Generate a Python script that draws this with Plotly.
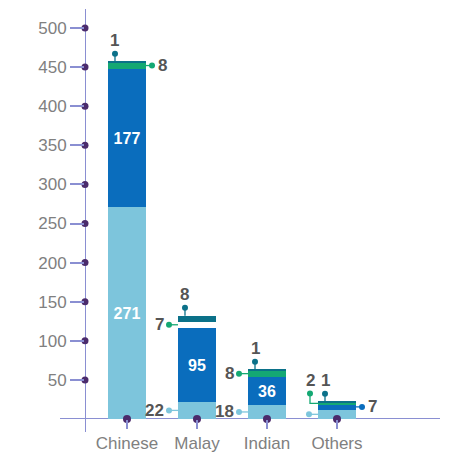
import plotly.graph_objects as go

categories = ["Chinese", "Malay", "Indian", "Others"]
light_blue = [271, 22, 18, 12]
blue = [177, 95, 36, 7]
green = [8, 7, 8, 2]
teal = [1, 8, 1, 1]
y_ticks = [50, 100, 150, 200, 250, 300, 350, 400, 450, 500]

# label placement per category: lb, blue, green, teal
placement = [
    ["inside", "inside", "right", "top"],
    ["left", "inside", "left", "top"],
    ["left", "inside", "left", "top"],
    ["left_notext", "right", "elbow", "top"],
]

C_LB = "#7dc5dc"
C_BLUE = "#0a6dbd"
C_GREEN = "#14a873"
C_TEAL = "#0b7189"
C_AXIS = "#8a8fd2"
C_DOT = "#4b2b6c"
C_TICKTXT = "#808080"
C_LBL = "#555555"
FONT = "Liberation Sans, Arial"

W, H = 459, 453
ML, MR, MT, MB = 85, 19, 9, 34
X0 = -0.6
PX_X = 70.0
plot_w = W - ML - MR
plot_h = H - MT - MB
X1 = X0 + plot_w / PX_X
PX_Y = 0.782
Y1 = plot_h / PX_Y
BW = 0.543
HALF = BW / 2

def dx(px):
    return px / PX_X

def dy(px):
    return px / PX_Y

xs = list(range(len(categories)))
series = [light_blue, blue, green, teal]
colors = [C_LB, C_BLUE, C_GREEN, C_TEAL]

fig = go.Figure()
for si, (vals, col) in enumerate(zip(series, colors)):
    txt = ["<b>%d</b>" % v if placement[i][si] == "inside" else "" for i, v in enumerate(vals)]
    mcols = [col] * len(vals)
    if si == 2:
        mcols[1] = "#ffffff"
    fig.add_trace(go.Bar(
        x=xs, y=vals, width=BW, marker=dict(color=mcols, line=dict(width=0)),
        text=txt, textposition="inside", insidetextanchor="middle",
        textfont=dict(color="white", size=16, family=FONT),
        textangle=0, constraintext="none", hoverinfo="skip", showlegend=False,
    ))

annotations = []

def add_line(xl, yl, col):
    fig.add_trace(go.Scatter(x=xl, y=yl, mode="lines", line=dict(color=col, width=1.3),
                             hoverinfo="skip", showlegend=False, cliponaxis=False))

def add_dot(x, y, col):
    fig.add_trace(go.Scatter(x=[x], y=[y], mode="markers", marker=dict(color=col, size=6),
                             hoverinfo="skip", showlegend=False, cliponaxis=False))

def add_text(x, y, t, xanchor):
    annotations.append(dict(x=x, y=y, text="<b>%s</b>" % t, showarrow=False, xanchor=xanchor,
                            yanchor="middle", font=dict(size=17, color=C_LBL, family=FONT)))

for i in xs:
    base = 0
    left = i - HALF
    right = i + HALF
    for si, vals in enumerate(series):
        v = vals[i]
        lo, hi = base, base + v
        mid = (lo + hi) / 2
        col = colors[si]
        p = placement[i][si]
        if p in ("left", "left_notext"):
            dxp = left - dx(9)
            add_line([left, dxp], [mid, mid], col)
            add_dot(dxp, mid, col)
            if p == "left":
                add_text(dxp - dx(3), mid, str(v), "right")
        elif p == "right":
            dxp = right + dx(6)
            add_line([right, dxp], [mid, mid], col)
            add_dot(dxp, mid, col)
            add_text(dxp + dx(4), mid, str(v), "left")
        elif p == "top":
            xx = left + dx(7)
            yy = hi + dy(8)
            add_line([xx, xx], [hi, yy], col)
            add_dot(xx, yy, col)
            add_text(xx, yy + dy(13), str(v), "center")
        elif p == "elbow":
            xx = left - dx(8)
            yy = hi + dy(9)
            add_line([xx, xx, left], [yy, mid, mid], col)
            add_dot(xx, yy, col)
            add_text(xx, yy + dy(13), str(v), "center")
        base = hi

# axis dots
fig.add_trace(go.Scatter(x=[X0] * len(y_ticks), y=y_ticks, mode="markers",
                         marker=dict(color=C_DOT, size=7), hoverinfo="skip",
                         showlegend=False, cliponaxis=False))
fig.add_trace(go.Scatter(x=xs, y=[0] * len(xs), mode="markers",
                         marker=dict(color=C_DOT, size=8), hoverinfo="skip",
                         showlegend=False, cliponaxis=False))

shapes = [
    dict(type="line", xref="x", yref="paper", x0=X0, x1=X0, y0=-0.032, y1=1.0,
         line=dict(color=C_AXIS, width=2), layer="below"),
    dict(type="line", xref="paper", yref="y", x0=-25 / plot_w, x1=1.0, y0=0, y1=0,
         line=dict(color=C_AXIS, width=2), layer="below"),
]

fig.update_layout(
    width=W, height=H, margin=dict(l=ML, r=MR, t=MT, b=MB, autoexpand=False),
    barmode="stack", bargap=0,
    plot_bgcolor="white", paper_bgcolor="white",
    shapes=shapes, annotations=annotations,
    xaxis=dict(range=[X0, X1], tickvals=xs, ticktext=categories, showgrid=False,
               zeroline=False, showline=False, ticks="outside", ticklen=9,
               tickcolor=C_AXIS, tickwidth=1.5, automargin=False,
               tickfont=dict(size=17, color=C_TICKTXT, family=FONT)),
    yaxis=dict(range=[0, Y1], tickvals=y_ticks, showgrid=False, zeroline=False,
               showline=False, ticks="outside", ticklen=14, tickcolor=C_AXIS,
               tickwidth=1.5, automargin=False,
               tickfont=dict(size=17, color=C_TICKTXT, family=FONT)),
    font=dict(family=FONT),
)

fig.write_html("out.html")
